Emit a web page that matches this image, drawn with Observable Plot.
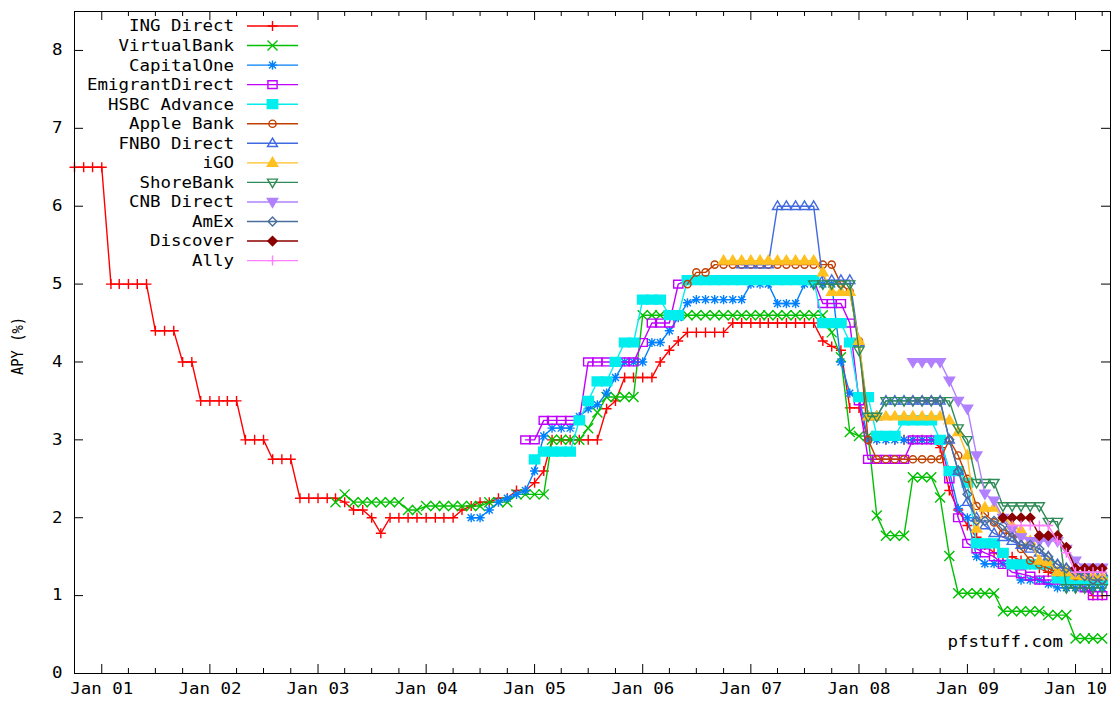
<!DOCTYPE html>
<html><head><meta charset="utf-8">
<script src="https://cdn.jsdelivr.net/npm/d3@7"></script>
<script src="https://cdn.jsdelivr.net/npm/@observablehq/plot@0.6"></script>
<style>html,body{margin:0;padding:0;background:#fff;}</style>
</head><body><div id="chart"></div>
<script>
// ---------------- DATA (monthly APY %) ----------------
const seriesNames = ["ING Direct","VirtualBank","CapitalOne","EmigrantDirect","HSBC Advance","Apple Bank","FNBO Direct","iGO","ShoreBank","CNB Direct","AmEx","Discover","Ally"];
const seriesColors = ["#ff0000","#00c000","#0080ff","#c000ff","#00eeee","#c04000","#4169e1","#ffc020","#2e8b57","#b080ff","#4a6f9a","#8b0000","#ff80ff"];
const seriesStarts = ["2000-10","2003-03","2004-06","2004-12","2005-01","2006-06","2006-12","2006-10","2007-08","2008-07","2008-07","2009-05","2009-06"];

const ingDirect = [6.5,6.5,6.5,
  6.5,5.0,5.0,5.0,5.0,5.0,4.4,4.4,4.4,4.0,4.0,3.5,
  3.5,3.5,3.5,3.5,3.0,3.0,3.0,2.75,2.75,2.75,2.25,2.25,
  2.25,2.25,2.25,2.2,2.1,2.1,2.0,1.8,2.0,2.0,2.0,2.0,
  2.0,2.0,2.0,2.0,2.1,2.15,2.2,2.2,2.25,2.25,2.35,2.35,
  2.45,2.6,3.0,3.0,3.0,3.0,3.0,3.0,3.4,3.5,3.8,3.8,
  3.8,3.8,4.0,4.15,4.27,4.38,4.38,4.38,4.38,4.38,4.5,4.5,
  4.5,4.5,4.5,4.5,4.5,4.5,4.5,4.5,4.27,4.2,4.15,3.41,
  3.41,3.0,3.0,3.0,3.0,3.0,3.0,3.0,3.0,2.9,2.35,2.1,
  1.9,1.75,1.65,1.55,1.5,1.5,1.45,1.4,1.35,1.3,1.25,1.2,
  1.1,1.1,1.0,1.0];
const virtualBank = [2.2,2.3,2.2,2.2,2.2,2.2,2.2,2.2,2.1,2.1,
  2.15,2.15,2.15,2.15,2.15,2.15,2.15,2.2,2.2,2.2,2.3,2.3,
  2.3,2.3,3.0,3.0,3.0,3.0,3.15,3.35,3.55,3.55,3.55,3.55,
  4.6,4.6,4.6,4.6,4.6,4.6,4.6,4.6,4.6,4.6,4.6,4.6,
  4.6,4.6,4.6,4.6,4.6,4.6,4.6,4.6,4.6,4.38,4.06,3.1,
  3.05,3.05,2.03,1.77,1.77,1.77,2.52,2.52,2.52,2.26,1.51,1.03,
  1.03,1.03,1.03,1.03,0.8,0.8,0.8,0.8,0.8,0.75,0.75,0.75,
  0.45,0.45,0.45,0.45];
const capitalOne = [2.0,2.0,2.1,2.2,2.25,2.3,2.35,
  2.6,3.05,3.15,3.15,3.15,3.3,3.4,3.45,3.6,3.8,4.0,4.0,
  4.0,4.25,4.25,4.4,4.57,4.76,4.8,4.8,4.8,4.8,4.8,4.8,
  5.0,5.0,5.0,4.75,4.75,4.75,5.0,5.0,5.0,5.0,4.0,3.6,
  3.55,3.0,3.0,3.0,3.0,3.0,3.0,3.0,3.0,3.0,2.6,2.12,
  2.0,1.5,1.41,1.41,1.41,1.41,1.2,1.2,1.2,1.15,1.1,1.1,
  1.1,1.1,1.1,1.1];
const emigrantDirect = [3.0,
  3.0,3.25,3.25,3.25,3.25,3.25,4.0,4.0,4.0,4.0,4.0,4.0,
  4.25,4.5,4.5,4.5,5.0,5.05,5.05,5.05,5.05,5.05,5.05,5.05,
  5.05,5.05,5.05,5.05,5.05,5.05,5.05,5.05,4.75,4.75,4.75,4.5,
  3.5,2.75,2.75,2.75,2.75,2.75,3.0,3.0,3.0,3.0,2.5,2.0,
  1.67,1.6,1.55,1.5,1.4,1.3,1.28,1.25,1.2,1.2,1.2,1.2,
  1.2,1.1,1.0,1.0];
const hsbcAdvance = [2.75,2.85,2.85,2.85,2.85,3.25,3.5,3.75,3.75,4.0,4.25,4.25,
  4.8,4.8,4.8,4.6,4.6,5.05,5.05,5.05,5.05,5.05,5.05,5.05,
  5.05,5.05,5.05,5.05,5.05,5.05,5.05,5.05,4.5,4.5,4.5,4.25,
  3.55,3.55,3.05,3.05,3.05,3.25,3.25,3.25,3.25,3.0,2.6,2.6,
  2.45,1.67,1.67,1.67,1.55,1.4,1.4,1.4,1.4,1.4,1.22,1.2,
  1.2,1.2,1.2,1.2];
const appleBank = [5.0,5.15,5.15,5.25,5.25,5.25,5.25,
  5.25,5.25,5.25,5.25,5.25,5.25,5.25,5.25,5.25,5.25,5.0,4.9,
  4.27,3.0,2.75,2.75,2.75,2.75,2.75,2.75,2.75,2.75,3.0,2.8,
  2.5,2.15,2.05,1.94,1.8,1.8,1.6,1.45,1.4,1.35,1.3,1.3,
  1.25,1.25,1.2,1.2];
const fnboDirect = [5.25,
  5.25,5.25,5.25,6.0,6.0,6.0,6.0,6.0,5.05,5.05,5.05,5.05,
  4.25,3.3,3.3,3.5,3.5,3.5,3.5,3.5,3.5,3.5,3.0,2.6,
  2.2,2.0,1.9,1.8,1.75,1.7,1.65,1.6,1.55,1.5,1.4,1.35,
  1.3,1.3,1.3,1.3];
const iGO = [5.3,5.3,5.3,
  5.3,5.3,5.3,5.3,5.3,5.3,5.3,5.3,5.15,4.9,4.9,4.9,
  4.27,3.3,3.3,3.3,3.3,3.3,3.3,3.3,3.3,3.3,3.25,3.1,
  2.8,1.86,2.13,2.13,2.0,1.9,1.84,1.7,1.45,1.43,1.3,1.3,
  1.26,1.25,1.25,1.25];
const shoreBank = [5.0,5.0,5.0,5.0,5.0,
  4.15,3.3,3.3,3.5,3.5,3.5,3.5,3.5,3.5,3.5,3.5,3.15,
  3.0,2.45,2.45,2.45,2.15,2.15,2.15,2.15,2.15,1.95,1.95,1.1,
  1.1,1.1,1.1,1.1];
const cnbDirect = [4.0,4.0,4.0,4.0,3.76,3.5,
  3.4,2.8,2.31,2.22,2.0,1.85,1.75,1.7,1.7,1.7,1.7,1.6,
  1.45,1.36,1.36,1.36];
const amEx = [3.5,3.5,3.5,3.5,3.0,2.6,
  2.3,1.96,1.96,1.96,1.9,1.75,1.65,1.65,1.6,1.5,1.4,1.35,
  1.3,1.25,1.2,1.2];
const discover = [2.0,2.0,2.0,2.0,1.77,1.77,1.77,1.62,1.35,1.35,1.35,1.35];
const ally = [1.9,1.9,1.9,1.9,1.9,1.7,1.55,1.3,1.3,1.3,1.3];

const seriesValues = [ingDirect,virtualBank,capitalOne,emigrantDirect,hsbcAdvance,appleBank,fnboDirect,iGO,shoreBank,cnbDirect,amEx,discover,ally];
const yTicks = [0,1,2,3,4,5,6,7,8];
const xDomain = ["2000-10-01","2010-04-29"];
const watermark = "pfstuff.com";
const yTitle = "APY (%)";

// ---------------- gnuplot-like point symbols ----------------
function gsym(fn){ return { draw(ctx, size){ fn(ctx, Math.sqrt(size/Math.PI)); } }; }
const SYM = {
  plus: gsym((c,r)=>{c.moveTo(-r,0);c.lineTo(r,0);c.moveTo(0,-r);c.lineTo(0,r);}),
  times: gsym((c,r)=>{c.moveTo(-r,-r);c.lineTo(r,r);c.moveTo(-r,r);c.lineTo(r,-r);}),
  star: gsym((c,r)=>{c.moveTo(-r,0);c.lineTo(r,0);c.moveTo(0,-r);c.lineTo(0,r);const q=r*0.75;c.moveTo(-q,-q);c.lineTo(q,q);c.moveTo(-q,q);c.lineTo(q,-q);}),
  square: gsym((c,r)=>{c.moveTo(-r,-r*0.85);c.lineTo(r,-r*0.85);c.lineTo(r,r*0.85);c.lineTo(-r,r*0.85);c.closePath();}),
  circle: gsym((c,r)=>{c.moveTo(r,0);c.arc(0,0,r,0,2*Math.PI);}),
  triUp: gsym((c,r)=>{c.moveTo(0,-r*1.05);c.lineTo(r,r*0.65);c.lineTo(-r,r*0.65);c.closePath();}),
  triDown: gsym((c,r)=>{c.moveTo(0,r*1.05);c.lineTo(r,-r*0.65);c.lineTo(-r,-r*0.65);c.closePath();}),
  diamond: gsym((c,r)=>{c.moveTo(0,-r);c.lineTo(r,0);c.lineTo(0,r);c.lineTo(-r,0);c.closePath();})
};
const seriesSymbols = ["plus","times","star","square","square","circle","triUp","triUp","triDown","triDown","diamond","diamond","plus"];
const seriesFilled = [false,false,false,false,true,false,false,true,false,true,false,true,false];
const seriesR = [5,5,4.6,4.6,5.2,3.6,5,5.2,5,5.2,4.4,4.6,5];

const parseMonth = d3.utcParse("%Y-%m");
const series = seriesNames.map((name,i)=>({
  name, color: seriesColors[i], sym: SYM[seriesSymbols[i]], filled: seriesFilled[i], r: seriesR[i],
  data: seriesValues[i].map((v,j)=>({date: d3.utcMonth.offset(parseMonth(seriesStarts[i]), j), apy: v}))
}));

// ---------------- layout ----------------
const W = 1111, H = 702, mL = 74, mR = 1, mT = 11, mB = 29;
const innerW = W - mL - mR, innerH = H - mT - mB;
const x0 = new Date(xDomain[0]), x1 = new Date(xDomain[1]);
const majorX = d3.utcYear.range(new Date("2001-01-01"), x1);
const minorX = d3.utcMonth.every(3).range(x0, x1).filter(d => d.getUTCMonth() !== 0 && +d > +x0);
const LW = 1.4;

const dataMarks = series.flatMap(s => [
  Plot.line(s.data, {x: "date", y: "apy", stroke: s.color, strokeWidth: LW}),
  Plot.dot(s.data, {x: "date", y: "apy", symbol: s.sym, r: s.r, stroke: s.color, fill: s.filled ? s.color : "none", strokeWidth: LW})
]);

const plot = Plot.plot({
  width: W, height: H, marginLeft: mL, marginRight: mR, marginTop: mT, marginBottom: mB,
  style: {fontFamily: "DejaVu Sans Mono", fontSize: "15px", color: "#000", background: "#fff", overflow: "visible"},
  x: {type: "utc", domain: [x0, x1]},
  y: {domain: [0, 8.5]},
  marks: [
    Plot.axisX({ticks: majorX, tickSize: 0, tickPadding: 10, tickFormat: d3.utcFormat("%b %y"), label: null}),
    Plot.axisY({ticks: yTicks, tickSize: 0, tickPadding: 12, label: null}),
    ...dataMarks,
    Plot.tickX(majorX, {insetTop: innerH - 9, stroke: "#000"}),
    Plot.tickX(majorX, {insetBottom: innerH - 9, stroke: "#000"}),
    Plot.tickX(minorX, {insetTop: innerH - 5, stroke: "#000"}),
    Plot.tickX(minorX, {insetBottom: innerH - 5, stroke: "#000"}),
    Plot.tickY(yTicks.slice(1), {insetRight: innerW - 9, stroke: "#000"}),
    Plot.tickY(yTicks.slice(1), {insetLeft: innerW - 9, stroke: "#000"}),
    Plot.frame({stroke: "#000", strokeWidth: 1})
  ]
});
const svgEl = plot.tagName.toLowerCase() === "svg" ? plot : plot.querySelector("svg");
document.getElementById("chart").appendChild(plot);
const svg = d3.select(svgEl);

// legend (inside plot, top-left, gnuplot style)
const lg = svg.append("g").attr("font-family", "DejaVu Sans Mono").attr("font-size", 15);
series.forEach((s, i) => {
  const y = 26 + i * 19.55;
  lg.append("text").attr("x", 234).attr("y", y).attr("dy", "0.36em").attr("text-anchor", "end").attr("fill", "#000").text(s.name);
  lg.append("line").attr("x1", 247).attr("x2", 298).attr("y1", y).attr("y2", y).attr("stroke", s.color).attr("stroke-width", LW);
  lg.append("path").attr("d", d3.symbol(s.sym, Math.PI * s.r * s.r)()).attr("transform", `translate(272.5,${y})`)
    .attr("stroke", s.color).attr("stroke-width", LW).attr("fill", s.filled ? s.color : "none");
});
// y title
svg.append("text").attr("transform", "translate(18,346) rotate(-90)").attr("text-anchor", "middle").attr("dy", "0.36em")
  .attr("font-family", "DejaVu Sans Mono").attr("font-size", 15).attr("fill", "#000").attr("data-w", 58).text(yTitle);
// watermark
svg.append("text").attr("x", 1063).attr("y", 642).attr("dy", "0.36em").attr("text-anchor", "end")
  .attr("font-family", "DejaVu Sans Mono").attr("font-size", 15).attr("fill", "#000").text(watermark);

// stretch all text horizontally like the reference bitmap font
svg.selectAll("text").each(function(){
  const t = this.textContent; if (!t) return;
  const w = this.getAttribute("data-w") ? +this.getAttribute("data-w") : t.length * 10.5;
  this.setAttribute("textLength", w);
  this.setAttribute("lengthAdjust", "spacingAndGlyphs");
});
</script></body></html>
